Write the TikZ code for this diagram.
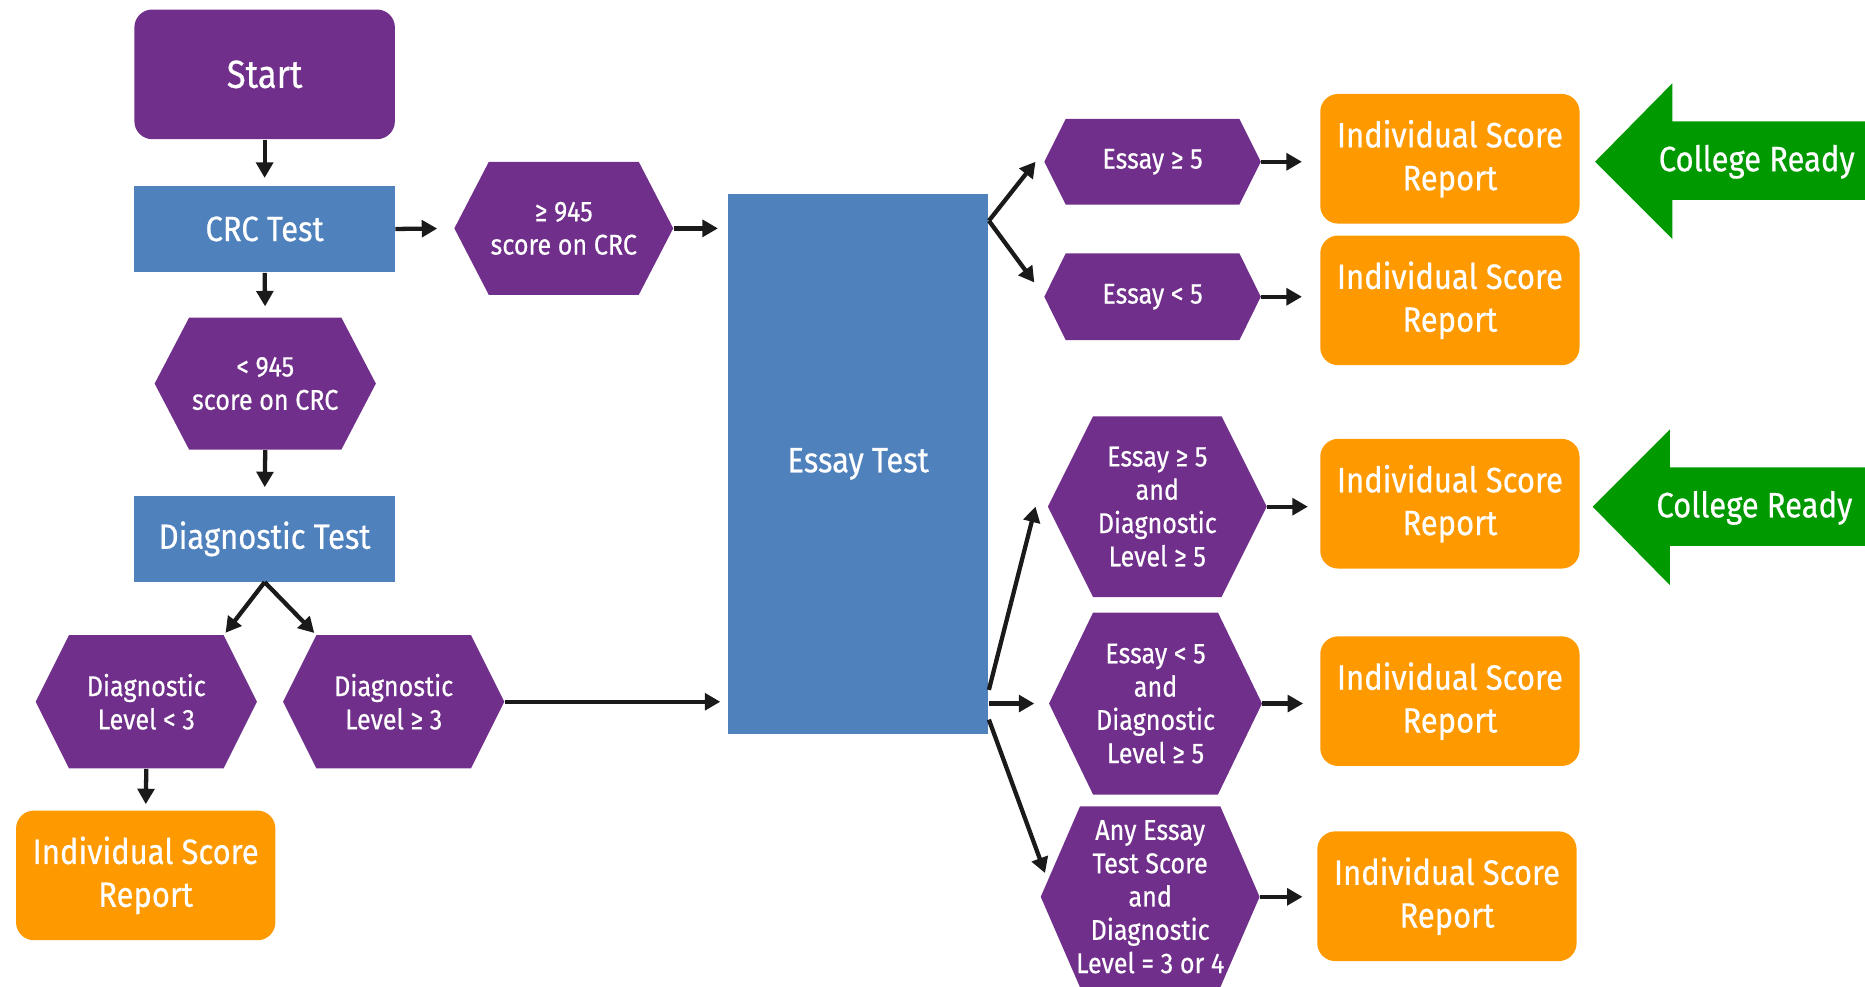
\documentclass[tikz,border=0pt]{standalone}
\usepackage{fontspec}
\setmainfont[FakeStretch=0.88,FakeBold=0.5]{Fira Sans}
\usetikzlibrary{arrows.meta}
\definecolor{purp}{HTML}{702F8A}
\definecolor{blu}{HTML}{4F81BD}
\definecolor{orng}{HTML}{FF9900}
\definecolor{grn}{HTML}{009900}
\definecolor{arr}{HTML}{1A1A1A}
\begin{document}
\begin{tikzpicture}[x=0.5pt,y=-0.5pt,
  bigtxt/.style={text=white, font=\fontsize{14.8}{18}\selectfont, align=center, inner sep=0pt},
  smalltxt/.style={text=white, font=\fontsize{12}{14}\selectfont, align=center, inner sep=0pt},
  bluebox/.style={bigtxt, fill=blu, minimum width=109.5pt},
  startbox/.style={bigtxt, font=\fontsize{16.5}{20}\selectfont, fill=purp, rounded corners=7.5pt, minimum width=109.5pt, minimum height=54.5pt},
  report/.style={bigtxt, fill=orng, rounded corners=7.5pt, minimum width=109pt, minimum height=54.5pt},
  hexa/.style={smalltxt, path picture={\fill[purp] (path picture bounding box.west)
      -- ([xshift=#1]path picture bounding box.north west)
      -- ([xshift=-#1]path picture bounding box.north east)
      -- (path picture bounding box.east)
      -- ([xshift=-#1]path picture bounding box.south east)
      -- ([xshift=#1]path picture bounding box.south west) -- cycle;}},
  conn/.style={draw=arr, line width=1.8pt, -{Triangle[length=6.5pt,width=7pt]}},
  ready/.style={fill=grn}
]
\clip (0,0) rectangle (1568,829);

% left column
\node[startbox] (start) at (222.5,62.5) {Start};
\node[bluebox, minimum height=36.5pt] (crc) at (222.5,192.5) {CRC Test};
\node[hexa=14.5pt, minimum width=92pt, minimum height=56pt] (ge945) at (474,192) {≥ 945\\score on CRC};
\node[hexa=14.5pt, minimum width=93pt, minimum height=55.5pt] (lt945) at (223,322.5) {< 945\\score on CRC};
\node[bluebox, minimum height=36pt] (diag) at (222.5,453) {Diagnostic Test};
\node[hexa=14pt, minimum width=93pt, minimum height=56pt] (dl) at (123,590) {Diagnostic\\Level < 3};
\node[hexa=14pt, minimum width=93pt, minimum height=56pt] (dg) at (331,590) {Diagnostic\\Level ≥ 3};
\node[report] (r0) at (122.5,736) {Individual Score\\Report};

% essay test
\node[bluebox, minimum height=227pt] (essay) at (721.5,390) {Essay Test};

% right column
\node[hexa=9pt, minimum width=91pt, minimum height=36pt] (e1) at (969,136) {Essay ≥ 5};
\node[hexa=9pt, minimum width=91pt, minimum height=36.5pt] (e2) at (969,249.5) {Essay < 5};
\node[hexa=19pt, minimum width=92pt, minimum height=76pt] (e3) at (973,426) {Essay ≥ 5\\and\\Diagnostic\\Level ≥ 5};
\node[hexa=18.5pt, minimum width=89.5pt, minimum height=76.5pt] (e4) at (971.5,591.5) {Essay < 5\\and\\Diagnostic\\Level ≥ 5};
\node[hexa=16.5pt, minimum width=92pt, minimum height=76pt] (e5) at (967,754) {Any Essay\\Test Score\\and\\Diagnostic\\Level = 3 or 4};

\node[report] (r1) at (1219,133.5) {Individual Score\\Report};
\node[report] (r2) at (1219,252.5) {Individual Score\\Report};
\node[report] (r3) at (1219,423.5) {Individual Score\\Report};
\node[report] (r4) at (1219,589.5) {Individual Score\\Report};
\node[report] (r5) at (1216.5,753.5) {Individual Score\\Report};

% college ready arrows
\fill[ready] (1341,136) -- (1406,70) -- (1406,102) -- (1600,102) -- (1600,168) -- (1406,168) -- (1406,201) -- cycle;
\node[bigtxt] (cr1) at (1477,136) {College Ready};
\fill[ready] (1339,426) -- (1404,361) -- (1404,393) -- (1600,393) -- (1600,459) -- (1404,459) -- (1404,492) -- cycle;
\node[bigtxt] (cr2) at (1475,427) {College Ready};

% connectors
\draw[conn, shorten >=3pt] (start.south) -- (crc.north);
\draw[conn, shorten >=7pt] (crc.east) -- (ge945.west);
\draw[conn, shorten >=4pt] (ge945.east) -- (ge945.east -| essay.west);
\draw[conn, shorten >=4.5pt] (crc.south) -- (lt945.north);
\draw[conn, shorten >=3.5pt] (lt945.south) -- (diag.north);
\draw[conn, shorten >=1pt] (diag.south) -- ([xshift=-14pt]dl.north east);
\draw[conn, shorten >=1pt] (diag.south) -- ([xshift=14pt]dg.north west);
\draw[conn, shorten >=3pt] (dg.east) -- (dg.east -| essay.west);
\draw[conn, shorten >=2.5pt] (dl.south) -- (r0.north);

\coordinate (eo1) at ([yshift=-11.5pt]essay.north east);
\draw[conn] (eo1) -- ([xshift=-3.5pt]e1.west);
\draw[conn] (eo1) -- ([shift={(-4pt,6pt)}]e2.west);
\draw[conn] ([yshift=-95pt]essay.east) -- ([xshift=-5pt]e3.west);
\draw[conn] (essay.east |- e4.west) -- ([xshift=-6pt]e4.west);
\draw[conn] ([yshift=-107.5pt]essay.east) -- ([shift={(2pt,10pt)}]e5.west);

\draw[conn, shorten >=7.5pt] (e1.east) -- (e1.east -| r1.west);
\draw[conn, shorten >=7.5pt] (e2.east) -- (e2.east -| r2.west);
\draw[conn, shorten >=5pt] (e3.east) -- (e3.east -| r3.west);
\draw[conn, shorten >=7pt] (e4.east) -- (e4.east -| r4.west);
\draw[conn, shorten >=6pt] (e5.east) -- (e5.east -| r5.west);
\end{tikzpicture}
\end{document}
